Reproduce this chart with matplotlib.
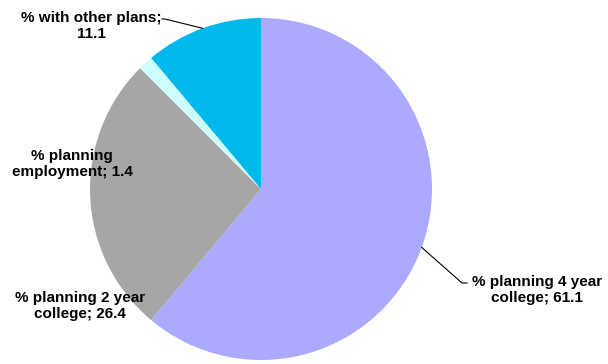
import numpy as np
import matplotlib
matplotlib.use("Agg")
import matplotlib.pyplot as plt

categories = ["% planning 4 year\ncollege", "% planning 2 year\ncollege",
              "% planning\nemployment", "% with other plans;\n"]
values = [61.1, 26.4, 1.4, 11.1]
colors = ["#AAAAFF", "#A6A6A6", "#CCFFFF", "#00B8EC"]

W, H = 608, 364
fig = plt.figure(figsize=(W / 100, H / 100), dpi=100)
ax = fig.add_axes([0, 0, 1, 1])

cx, cy, r = 261, H - 189, 171
wedges, _ = ax.pie(values, colors=colors, startangle=90, counterclock=False,
                   center=(cx, cy), radius=r, frame=True,
                   wedgeprops=dict(linewidth=0))
ax.set_xlim(0, W)
ax.set_ylim(0, H)
ax.set_aspect("equal")
ax.axis("off")

font = dict(family=["Liberation Sans", "DejaVu Sans"], fontsize=11,
            fontweight="bold", ha="center", va="center", linespacing=1.22)

def lbl(i):
    c = categories[i]
    if c.endswith("\n"):
        return f"{c}{values[i]}"
    return f"{c}; {values[i]}"

# label positions in pixel coords (x, y from top)
label_pos = {0: (537, 290), 1: (80, 306), 2: (72, 164), 3: (91, 26)}
for i, (px, py) in label_pos.items():
    ax.text(px, H - py, lbl(i), **font)

# leader lines
def edge_pt(i):
    start = 90 - sum(values[:i]) * 3.6
    mid = start - values[i] * 1.8
    a = np.deg2rad(mid)
    return cx + r * np.cos(a), cy + r * np.sin(a)

x0, y0 = edge_pt(0)
ax.plot([x0, 462, 467], [y0, H - 283, H - 283], color="black", lw=0.8)
x3, y3 = edge_pt(3)
ax.plot([x3, 165, 162], [y3, H - 19, H - 19], color="black", lw=0.8)

fig.savefig("out.png", dpi=100)
